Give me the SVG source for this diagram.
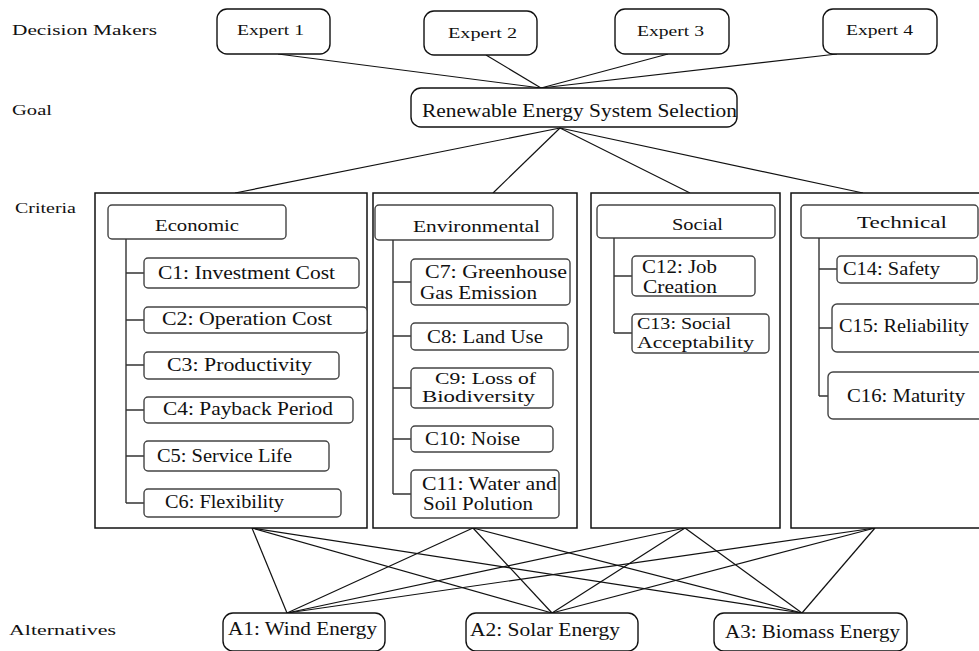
<svg xmlns="http://www.w3.org/2000/svg" width="979" height="651" viewBox="0 0 979 651">
<style>
text{fill:#111;font-family:"Liberation Serif"}
.lbl{font-size:15px}
.exp{font-size:15px}
.hd{font-size:16.5px}
.it{font-size:18px}
.it2{font-size:17px}
.alt{font-size:19px}
.goal{font-size:19px}
.node{fill:#fff;stroke:#111;stroke-width:1.4}
.panel{fill:#fff;stroke:#111;stroke-width:1.5}
.item{fill:#fff;stroke:#444;stroke-width:1.4}
.tree{fill:none;stroke:#333;stroke-width:1.4}
.conn line{stroke:#111;stroke-width:1.2}
</style>
<rect width="979" height="651" fill="#fff"/>

<g id="labels">
<text class="lbl" x="12" y="35" textLength="145" lengthAdjust="spacingAndGlyphs">Decision Makers</text>
<text class="lbl" x="12" y="115" textLength="40" lengthAdjust="spacingAndGlyphs">Goal</text>
<text class="lbl" x="15" y="213" textLength="61" lengthAdjust="spacingAndGlyphs">Criteria</text>
<text class="lbl" x="9" y="635" textLength="107" lengthAdjust="spacingAndGlyphs">Alternatives</text>
</g>

<g id="connectors" class="conn">
<line x1="278" y1="54" x2="541" y2="88"/>
<line x1="486" y1="55" x2="541" y2="88"/>
<line x1="668" y1="54" x2="541" y2="88"/>
<line x1="837" y1="54" x2="541" y2="88"/>
<line x1="560" y1="128" x2="235" y2="193"/>
<line x1="560" y1="128" x2="493" y2="193"/>
<line x1="560" y1="128" x2="690" y2="193"/>
<line x1="560" y1="128" x2="863" y2="193"/>
<line x1="252" y1="528" x2="287" y2="613"/>
<line x1="252" y1="528" x2="552" y2="613"/>
<line x1="252" y1="528" x2="802" y2="613"/>
<line x1="473" y1="528" x2="287" y2="613"/>
<line x1="473" y1="528" x2="552" y2="613"/>
<line x1="473" y1="528" x2="802" y2="613"/>
<line x1="685" y1="528" x2="287" y2="613"/>
<line x1="685" y1="528" x2="552" y2="613"/>
<line x1="685" y1="528" x2="802" y2="613"/>
<line x1="875" y1="528" x2="287" y2="613"/>
<line x1="875" y1="528" x2="552" y2="613"/>
<line x1="875" y1="528" x2="802" y2="613"/>
</g>

<g id="expert1"><rect class="node" x="217" y="9" width="113" height="45" rx="10"/><text class="exp" x="237" y="35" textLength="67" lengthAdjust="spacingAndGlyphs">Expert 1</text></g>
<g id="expert2"><rect class="node" x="424" y="11" width="113" height="44" rx="10"/><text class="exp" x="448" y="38" textLength="69" lengthAdjust="spacingAndGlyphs">Expert 2</text></g>
<g id="expert3"><rect class="node" x="615" y="9" width="114" height="45" rx="10"/><text class="exp" x="637" y="36" textLength="67" lengthAdjust="spacingAndGlyphs">Expert 3</text></g>
<g id="expert4"><rect class="node" x="823" y="9" width="114" height="45" rx="10"/><text class="exp" x="846" y="35" textLength="67" lengthAdjust="spacingAndGlyphs">Expert 4</text></g>

<g id="goal"><rect class="node" x="411" y="88" width="326" height="39" rx="10"/><text class="goal" x="422" y="117" textLength="315" lengthAdjust="spacingAndGlyphs">Renewable Energy System Selection</text></g>

<g id="economic">
<rect class="panel" x="95" y="193" width="272" height="335"/>
<rect class="item" x="108" y="205" width="178" height="34" rx="4"/>
<text class="hd" x="155" y="231" textLength="84" lengthAdjust="spacingAndGlyphs">Economic</text>
<path class="tree" d="M126 239V503M126 273H144M126 320H144M126 365H144M126 410H144M126 456H144M126 503H144"/>
<g id="c1"><rect class="item" x="144" y="258" width="215" height="30" rx="4"/><text class="it" x="158" y="279" textLength="177" lengthAdjust="spacingAndGlyphs">C1: Investment Cost</text></g>
<g id="c2"><rect class="item" x="144" y="307" width="223" height="26" rx="4"/><text class="it" x="162" y="325" textLength="170" lengthAdjust="spacingAndGlyphs">C2:  Operation Cost</text></g>
<g id="c3"><rect class="item" x="144" y="352" width="195" height="27" rx="4"/><text class="it" x="167" y="371" textLength="145" lengthAdjust="spacingAndGlyphs">C3:  Productivity</text></g>
<g id="c4"><rect class="item" x="144" y="397" width="209" height="26" rx="4"/><text class="it" x="163" y="415" textLength="170" lengthAdjust="spacingAndGlyphs">C4:  Payback Period</text></g>
<g id="c5"><rect class="item" x="144" y="441" width="185" height="30" rx="4"/><text class="it" x="157" y="462" textLength="135" lengthAdjust="spacingAndGlyphs">C5: Service Life</text></g>
<g id="c6"><rect class="item" x="144" y="489" width="197" height="28" rx="4"/><text class="it" x="165" y="508" textLength="119" lengthAdjust="spacingAndGlyphs">C6:  Flexibility</text></g>
</g>

<g id="environmental">
<rect class="panel" x="373" y="193" width="204" height="335"/>
<rect class="item" x="375" y="205" width="178" height="35" rx="4"/>
<text class="hd" x="413" y="232" textLength="127" lengthAdjust="spacingAndGlyphs">Environmental</text>
<path class="tree" d="M393 240V494M393 282H411M393 336H411M393 388H411M393 439H411M393 494H411"/>
<g id="c7"><rect class="item" x="411" y="259" width="159" height="46" rx="4"/><text class="it" x="425" y="278" textLength="142" lengthAdjust="spacingAndGlyphs">C7:  Greenhouse</text><text class="it" x="420" y="299" textLength="117" lengthAdjust="spacingAndGlyphs">Gas Emission</text></g>
<g id="c8"><rect class="item" x="411" y="323" width="157" height="27" rx="4"/><text class="it" x="427" y="343" textLength="116" lengthAdjust="spacingAndGlyphs">C8: Land Use</text></g>
<g id="c9"><rect class="item" x="411" y="368" width="142" height="40" rx="4"/><text class="it2" x="435" y="384" textLength="101" lengthAdjust="spacingAndGlyphs">C9: Loss of</text><text class="it2" x="422" y="402" textLength="113" lengthAdjust="spacingAndGlyphs">Biodiversity</text></g>
<g id="c10"><rect class="item" x="411" y="426" width="142" height="26" rx="4"/><text class="it" x="425" y="445" textLength="95" lengthAdjust="spacingAndGlyphs">C10: Noise</text></g>
<g id="c11"><rect class="item" x="411" y="470" width="148" height="48" rx="4"/><text class="it" x="422" y="490" textLength="135" lengthAdjust="spacingAndGlyphs">C11: Water and</text><text class="it" x="423" y="510" textLength="110" lengthAdjust="spacingAndGlyphs">Soil Polution</text></g>
</g>

<g id="social">
<rect class="panel" x="591" y="193" width="189" height="335"/>
<rect class="item" x="597" y="205" width="178" height="33" rx="4"/>
<text class="hd" x="672" y="230" textLength="51" lengthAdjust="spacingAndGlyphs">Social</text>
<path class="tree" d="M614 238V333M614 276H632M614 333H632"/>
<g id="c12"><rect class="item" x="632" y="256" width="123" height="40" rx="4"/><text class="it" x="642" y="273" textLength="75" lengthAdjust="spacingAndGlyphs">C12: Job</text><text class="it" x="643" y="293" textLength="74" lengthAdjust="spacingAndGlyphs">Creation</text></g>
<g id="c13"><rect class="item" x="632" y="314" width="137" height="39" rx="4"/><text class="it2" x="637" y="329" textLength="94" lengthAdjust="spacingAndGlyphs">C13: Social</text><text class="it2" x="637" y="348" textLength="117" lengthAdjust="spacingAndGlyphs">Acceptability</text></g>
</g>

<g id="technical">
<rect class="panel" x="791" y="193" width="200" height="335"/>
<rect class="item" x="801" y="205" width="177" height="33" rx="4"/>
<text class="hd" x="857" y="228" textLength="90" lengthAdjust="spacingAndGlyphs">Technical</text>
<path class="tree" d="M819 238V396M819 269H837M819 328H832M819 396H828" stroke-width="1.6"/>
<g id="c14"><rect class="item" x="837" y="256" width="140" height="27" rx="4"/><text class="it" x="843" y="275" textLength="97" lengthAdjust="spacingAndGlyphs">C14: Safety</text></g>
<g id="c15"><rect class="item" x="832" y="304" width="160" height="48" rx="5"/><text class="it" x="839" y="332" textLength="130" lengthAdjust="spacingAndGlyphs">C15: Reliability</text></g>
<g id="c16"><rect class="item" x="828" y="372" width="164" height="47" rx="5"/><text class="it" x="847" y="402" textLength="118" lengthAdjust="spacingAndGlyphs">C16: Maturity</text></g>
</g>

<g id="a1"><rect class="node" x="223" y="613" width="162" height="38" rx="10"/><text class="alt" x="228" y="635" textLength="149" lengthAdjust="spacingAndGlyphs">A1: Wind Energy</text></g>
<g id="a2"><rect class="node" x="466" y="613" width="172" height="38" rx="10"/><text class="alt" x="470" y="636" textLength="150" lengthAdjust="spacingAndGlyphs">A2: Solar Energy</text></g>
<g id="a3"><rect class="node" x="714" y="613" width="193" height="38" rx="10"/><text class="alt" x="725" y="638" textLength="175" lengthAdjust="spacingAndGlyphs">A3: Biomass Energy</text></g>
</svg>
